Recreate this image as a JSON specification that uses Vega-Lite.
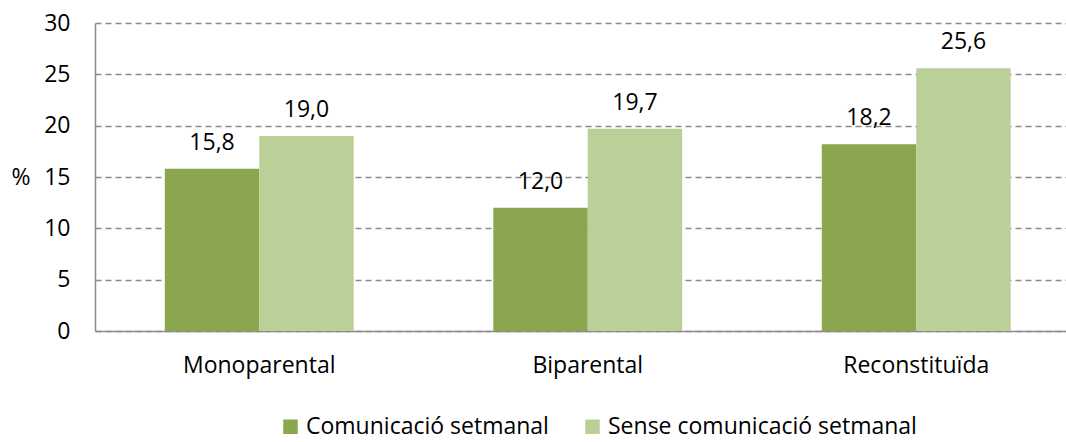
{
  "$schema": "https://vega.github.io/schema/vega-lite/v6.json",
  "autosize": {"type": "none"},
  "width": 971,
  "height": 308,
  "padding": {"left": 95, "top": 23, "right": 0, "bottom": 111},
  "background": "white",
  "config": {
    "locale": {"number": {"decimal": ",", "thousands": ".", "grouping": [3], "currency": ["", " €"]}},
    "font": "Open Sans",
    "view": {"stroke": null}
  },
  "data": {
    "values": [
      {"tipus": "Monoparental", "serie": "Comunicació setmanal", "valor": 15.8},
      {"tipus": "Monoparental", "serie": "Sense comunicació setmanal", "valor": 19.0},
      {"tipus": "Biparental", "serie": "Comunicació setmanal", "valor": 12.0},
      {"tipus": "Biparental", "serie": "Sense comunicació setmanal", "valor": 19.7},
      {"tipus": "Reconstituïda", "serie": "Comunicació setmanal", "valor": 18.2},
      {"tipus": "Reconstituïda", "serie": "Sense comunicació setmanal", "valor": 25.6}
    ]
  },
  "encoding": {
    "x": {
      "field": "tipus", "type": "nominal", "sort": null,
      "scale": {"range": [0, 985.5], "paddingInner": 0.425, "paddingOuter": 0.2125},
      "axis": {"title": null, "labelAngle": 0, "labelFontSize": 23, "labelColor": "#000000", "labelPadding": 23, "ticks": false, "domainColor": "#8c8c8c", "domainWidth": 1.5}
    },
    "xOffset": {"field": "serie", "type": "nominal", "sort": null, "scale": {"paddingInner": 0, "paddingOuter": 0}},
    "y": {
      "field": "valor", "type": "quantitative",
      "scale": {"domain": [0, 30], "nice": false},
      "axis": {"values": [0, 5, 10, 15, 20, 25, 30], "title": "%", "titleAngle": 0, "titleFontSize": 23, "titleFontWeight": "normal", "titleColor": "#000000", "titleX": -84, "titleY": 154, "titleAlign": "left", "titleBaseline": "middle", "labelFontSize": 23, "labelColor": "#000000", "labelPadding": 25, "ticks": false, "domainColor": "#8c8c8c", "domainWidth": 1.5, "grid": true, "gridColor": "#8a8a8a", "gridDash": [6, 4], "gridWidth": 1.5}
    }
  },
  "layer": [
    {
      "mark": {"type": "bar"},
      "encoding": {
        "color": {
          "field": "serie", "type": "nominal", "sort": null,
          "scale": {"domain": ["Comunicació setmanal", "Sense comunicació setmanal"], "range": ["#8aa64f", "#bbcf98"]},
          "legend": {"title": null, "orient": "none", "legendX": 184, "legendY": 392, "padding": 0, "direction": "horizontal", "symbolType": "square", "symbolSize": 210, "symbolStrokeWidth": 0, "labelFontSize": 23, "labelColor": "#000000", "labelOffset": 4, "columnPadding": 32, "labelLimit": 500}
        }
      }
    },
    {
      "mark": {"type": "text", "baseline": "alphabetic", "dy": -19, "fontSize": 23, "color": "#000000"},
      "encoding": {
        "text": {"field": "valor", "type": "quantitative", "format": ".1f"}
      }
    }
  ]
}
